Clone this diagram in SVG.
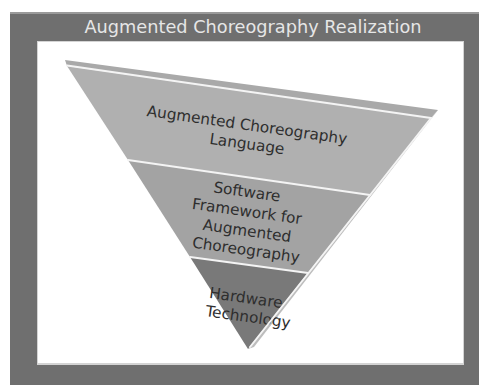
<svg xmlns="http://www.w3.org/2000/svg" width="479" height="385" viewBox="0 0 479 385">
<style>
.lbl{font-family:"DejaVu Sans","Liberation Sans",sans-serif;font-size:15.3px;fill:#2e2e2e;text-anchor:middle}
.hl{stroke:#f4f4f4;stroke-width:2;fill:none;stroke-linecap:round}
</style>
<g id="frame">
<rect x="10" y="12" width="469" height="373" fill="#6f6f6f"/>
<rect x="10" y="12" width="469" height="2" fill="#9a9a9a"/>
<rect x="37" y="41" width="427" height="324" fill="#d4d4d4"/>
<rect x="38" y="42" width="425" height="321" fill="#ffffff"/>
</g>
<g id="title">
<text x="253" y="33" font-family="DejaVu Sans, Liberation Sans, sans-serif" font-size="18" fill="#e6e6e6" text-anchor="middle" textLength="337" lengthAdjust="spacingAndGlyphs">Augmented Choreography Realization</text>
</g>
<g id="funnel-3d">
<polygon points="65,60 438,110 431,118 67,66" fill="#a9a9a9"/>
<polygon points="438,110 254,347 248,349 431,118" fill="#bdbdbd"/>
</g>
<g id="layer-language">
<polygon points="67,66 431,118 370,195 128,160" fill="#b0b0b0"/>
<text class="lbl" transform="rotate(8 247 125)" x="247" y="130">Augmented Choreography</text>
<text class="lbl" transform="rotate(8 247 144)" x="247" y="149">Language</text>
</g>
<g id="layer-software">
<polygon points="128,160 370,195 308,273 190,257" fill="#a3a3a3"/>
<text class="lbl" transform="rotate(8 247 192)" x="247" y="197">Software</text>
<text class="lbl" transform="rotate(8 247 211.5)" x="247" y="216.5">Framework for</text>
<text class="lbl" transform="rotate(8 247 231)" x="247" y="236">Augmented</text>
<text class="lbl" transform="rotate(8 246 250)" x="246" y="255">Choreography</text>
</g>
<g id="layer-hardware">
<polygon points="190,257 308,273 248,349" fill="#797979"/>
<text class="lbl" transform="rotate(8 246 298)" x="246" y="303">Hardware</text>
<text class="lbl" transform="rotate(8 248 317)" x="248" y="322">Technology</text>
</g>
<g id="connectors">
<line class="hl" x1="67" y1="65.5" x2="431" y2="118"/>
<line class="hl" x1="431" y1="118" x2="250" y2="347"/>
<line class="hl" x1="128" y1="160" x2="370" y2="195"/>
<line class="hl" x1="190" y1="257" x2="308" y2="273"/>
</g>
</svg>
